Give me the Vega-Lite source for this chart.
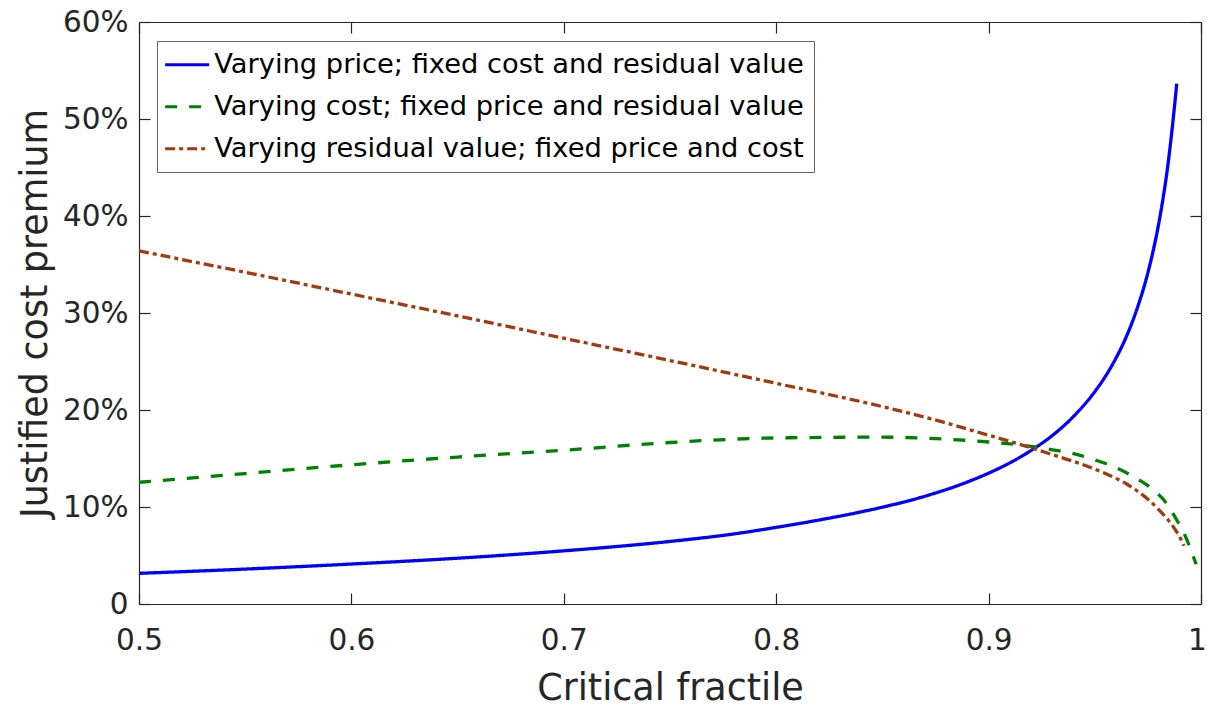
{
  "$schema": "https://vega.github.io/schema/vega-lite/v6.json",
  "width": 1062,
  "height": 582,
  "autosize": {"type": "none"},
  "padding": {"left": 139, "top": 22, "right": 6, "bottom": 105},
  "background": "#ffffff",
  "config": {
    "view": {"stroke": null},
    "font": "DejaVu Sans",
    "axis": {
      "domainColor": "#262626",
      "domainWidth": 1.2,
      "tickColor": "#262626",
      "tickWidth": 1.2,
      "tickSize": -11,
      "labelColor": "#262626",
      "labelFont": "DejaVu Sans",
      "labelFontSize": 29.5,
      "labelFlush": false,
      "labelOverlap": false,
      "titleColor": "#262626",
      "titleFont": "DejaVu Sans",
      "titleFontSize": 36.5,
      "titleFontWeight": "normal",
      "grid": false
    }
  },
  "data": {
    "values": [
      {"series": "Varying price; fixed cost and residual value", "f": 0.50, "p": 0.0316},
      {"series": "Varying price; fixed cost and residual value", "f": 0.55, "p": 0.0360},
      {"series": "Varying price; fixed cost and residual value", "f": 0.60, "p": 0.0412},
      {"series": "Varying price; fixed cost and residual value", "f": 0.65, "p": 0.0472},
      {"series": "Varying price; fixed cost and residual value", "f": 0.70, "p": 0.0548},
      {"series": "Varying price; fixed cost and residual value", "f": 0.75, "p": 0.0645},
      {"series": "Varying price; fixed cost and residual value", "f": 0.78, "p": 0.0722},
      {"series": "Varying price; fixed cost and residual value", "f": 0.80, "p": 0.0790},
      {"series": "Varying price; fixed cost and residual value", "f": 0.82, "p": 0.0865},
      {"series": "Varying price; fixed cost and residual value", "f": 0.84, "p": 0.0950},
      {"series": "Varying price; fixed cost and residual value", "f": 0.85, "p": 0.0998},
      {"series": "Varying price; fixed cost and residual value", "f": 0.87, "p": 0.1111},
      {"series": "Varying price; fixed cost and residual value", "f": 0.89, "p": 0.1258},
      {"series": "Varying price; fixed cost and residual value", "f": 0.90, "p": 0.1349},
      {"series": "Varying price; fixed cost and residual value", "f": 0.91, "p": 0.1455},
      {"series": "Varying price; fixed cost and residual value", "f": 0.92, "p": 0.1583},
      {"series": "Varying price; fixed cost and residual value", "f": 0.93, "p": 0.1737},
      {"series": "Varying price; fixed cost and residual value", "f": 0.94, "p": 0.1934},
      {"series": "Varying price; fixed cost and residual value", "f": 0.95, "p": 0.2189},
      {"series": "Varying price; fixed cost and residual value", "f": 0.955, "p": 0.2347},
      {"series": "Varying price; fixed cost and residual value", "f": 0.96, "p": 0.2536},
      {"series": "Varying price; fixed cost and residual value", "f": 0.965, "p": 0.2764},
      {"series": "Varying price; fixed cost and residual value", "f": 0.97, "p": 0.3051},
      {"series": "Varying price; fixed cost and residual value", "f": 0.975, "p": 0.3416},
      {"series": "Varying price; fixed cost and residual value", "f": 0.978, "p": 0.3693},
      {"series": "Varying price; fixed cost and residual value", "f": 0.98, "p": 0.3910},
      {"series": "Varying price; fixed cost and residual value", "f": 0.982, "p": 0.4164},
      {"series": "Varying price; fixed cost and residual value", "f": 0.984, "p": 0.4457},
      {"series": "Varying price; fixed cost and residual value", "f": 0.986, "p": 0.4817},
      {"series": "Varying price; fixed cost and residual value", "f": 0.987, "p": 0.5020},
      {"series": "Varying price; fixed cost and residual value", "f": 0.9886, "p": 0.5365},

      {"series": "Varying cost; fixed price and residual value", "f": 0.50, "p": 0.1255},
      {"series": "Varying cost; fixed price and residual value", "f": 0.55, "p": 0.1345},
      {"series": "Varying cost; fixed price and residual value", "f": 0.60, "p": 0.1435},
      {"series": "Varying cost; fixed price and residual value", "f": 0.65, "p": 0.1515},
      {"series": "Varying cost; fixed price and residual value", "f": 0.70, "p": 0.1585},
      {"series": "Varying cost; fixed price and residual value", "f": 0.75, "p": 0.1665},
      {"series": "Varying cost; fixed price and residual value", "f": 0.80, "p": 0.1712},
      {"series": "Varying cost; fixed price and residual value", "f": 0.85, "p": 0.1720},
      {"series": "Varying cost; fixed price and residual value", "f": 0.875, "p": 0.1705},
      {"series": "Varying cost; fixed price and residual value", "f": 0.90, "p": 0.1670},
      {"series": "Varying cost; fixed price and residual value", "f": 0.92, "p": 0.1625},
      {"series": "Varying cost; fixed price and residual value", "f": 0.93, "p": 0.1590},
      {"series": "Varying cost; fixed price and residual value", "f": 0.94, "p": 0.1550},
      {"series": "Varying cost; fixed price and residual value", "f": 0.95, "p": 0.1485},
      {"series": "Varying cost; fixed price and residual value", "f": 0.96, "p": 0.1405},
      {"series": "Varying cost; fixed price and residual value", "f": 0.97, "p": 0.1290},
      {"series": "Varying cost; fixed price and residual value", "f": 0.975, "p": 0.1220},
      {"series": "Varying cost; fixed price and residual value", "f": 0.98, "p": 0.1130},
      {"series": "Varying cost; fixed price and residual value", "f": 0.983, "p": 0.1060},
      {"series": "Varying cost; fixed price and residual value", "f": 0.986, "p": 0.0960},
      {"series": "Varying cost; fixed price and residual value", "f": 0.989, "p": 0.0850},
      {"series": "Varying cost; fixed price and residual value", "f": 0.992, "p": 0.0730},
      {"series": "Varying cost; fixed price and residual value", "f": 0.995, "p": 0.0570},
      {"series": "Varying cost; fixed price and residual value", "f": 0.9977, "p": 0.0410},

      {"series": "Varying residual value; fixed price and cost", "f": 0.50, "p": 0.3640},
      {"series": "Varying residual value; fixed price and cost", "f": 0.55, "p": 0.3420},
      {"series": "Varying residual value; fixed price and cost", "f": 0.60, "p": 0.3195},
      {"series": "Varying residual value; fixed price and cost", "f": 0.65, "p": 0.2970},
      {"series": "Varying residual value; fixed price and cost", "f": 0.70, "p": 0.2740},
      {"series": "Varying residual value; fixed price and cost", "f": 0.75, "p": 0.2510},
      {"series": "Varying residual value; fixed price and cost", "f": 0.80, "p": 0.2275},
      {"series": "Varying residual value; fixed price and cost", "f": 0.85, "p": 0.2035},
      {"series": "Varying residual value; fixed price and cost", "f": 0.877, "p": 0.1885},
      {"series": "Varying residual value; fixed price and cost", "f": 0.90, "p": 0.1740},
      {"series": "Varying residual value; fixed price and cost", "f": 0.91, "p": 0.1677},
      {"series": "Varying residual value; fixed price and cost", "f": 0.92, "p": 0.1610},
      {"series": "Varying residual value; fixed price and cost", "f": 0.93, "p": 0.1540},
      {"series": "Varying residual value; fixed price and cost", "f": 0.94, "p": 0.1470},
      {"series": "Varying residual value; fixed price and cost", "f": 0.95, "p": 0.1390},
      {"series": "Varying residual value; fixed price and cost", "f": 0.955, "p": 0.1345},
      {"series": "Varying residual value; fixed price and cost", "f": 0.96, "p": 0.1295},
      {"series": "Varying residual value; fixed price and cost", "f": 0.965, "p": 0.1237},
      {"series": "Varying residual value; fixed price and cost", "f": 0.97, "p": 0.1165},
      {"series": "Varying residual value; fixed price and cost", "f": 0.975, "p": 0.1080},
      {"series": "Varying residual value; fixed price and cost", "f": 0.98, "p": 0.0975},
      {"series": "Varying residual value; fixed price and cost", "f": 0.984, "p": 0.0880},
      {"series": "Varying residual value; fixed price and cost", "f": 0.987, "p": 0.0795},
      {"series": "Varying residual value; fixed price and cost", "f": 0.99, "p": 0.0690},
      {"series": "Varying residual value; fixed price and cost", "f": 0.992, "p": 0.0600}
    ]
  },
  "layer": [
    {
      "mark": {"type": "line", "strokeWidth": 3.3, "strokeCap": "butt", "interpolate": "monotone"},
      "encoding": {
        "x": {
          "field": "f", "type": "quantitative",
          "scale": {"domain": [0.5, 1], "nice": false, "zero": false},
          "axis": {
            "orient": "bottom",
            "values": [0.5, 0.6, 0.7, 0.8, 0.9, 1],
            "format": "~g",
            "labelPadding": 33,
            "labelOffset": {"condition": {"test": "datum.value === 1", "value": -4}, "value": 0},
            "title": "Critical fractile",
            "titleBaseline": "alphabetic",
            "titleY": 95
          }
        },
        "y": {
          "field": "p", "type": "quantitative",
          "scale": {"domain": [0, 0.6], "nice": false, "zero": false},
          "axis": {
            "orient": "left",
            "values": [0, 0.1, 0.2, 0.3, 0.4, 0.5, 0.6],
            "labelExpr": "datum.value === 0 ? '0' : format(datum.value, '.0%')",
            "labelPadding": 22,
            "title": "Justified cost premium",
            "titleBaseline": "alphabetic",
            "titleX": -93
          }
        },
        "color": {
          "field": "series", "type": "nominal",
          "scale": {
            "domain": [
              "Varying price; fixed cost and residual value",
              "Varying cost; fixed price and residual value",
              "Varying residual value; fixed price and cost"
            ],
            "range": ["#0000ff", "#008000", "#a33a0d"]
          },
          "legend": {
            "orient": "none",
            "legendX": 18,
            "legendY": 19,
            "title": null,
            "direction": "vertical",
            "symbolType": "M-1.55,0H2.85",
            "symbolSize": 400,
            "symbolStrokeWidth": 3,
            "labelFont": "DejaVu Sans",
            "labelFontSize": 27.3,
            "labelColor": "#000000",
            "labelLimit": 1000,
            "labelOffset": 20,
            "padding": 10,
            "rowPadding": 14,
            "strokeColor": "#666666",
            "fillColor": "#ffffff",
            "cornerRadius": 0
          }
        },
        "strokeDash": {
          "field": "series", "type": "nominal",
          "scale": {
            "domain": [
              "Varying price; fixed cost and residual value",
              "Varying cost; fixed price and residual value",
              "Varying residual value; fixed price and cost"
            ],
            "range": [[1, 0], [12, 12], [10, 4, 4, 4]]
          }
        }
      }
    },
    {
      "mark": {"type": "line", "opacity": 0},
      "encoding": {
        "x": {
          "field": "f", "type": "quantitative",
          "scale": {"domain": [0.5, 1], "nice": false, "zero": false},
          "axis": {"orient": "top", "values": [0.5, 0.6, 0.7, 0.8, 0.9, 1], "labels": false, "title": null}
        },
        "y": {
          "field": "p", "type": "quantitative",
          "scale": {"domain": [0, 0.6], "nice": false, "zero": false},
          "axis": {"orient": "right", "values": [0, 0.1, 0.2, 0.3, 0.4, 0.5, 0.6], "labels": false, "title": null}
        },
        "detail": {"field": "series", "type": "nominal"}
      }
    }
  ],
  "resolve": {"axis": {"x": "independent", "y": "independent"}}
}
